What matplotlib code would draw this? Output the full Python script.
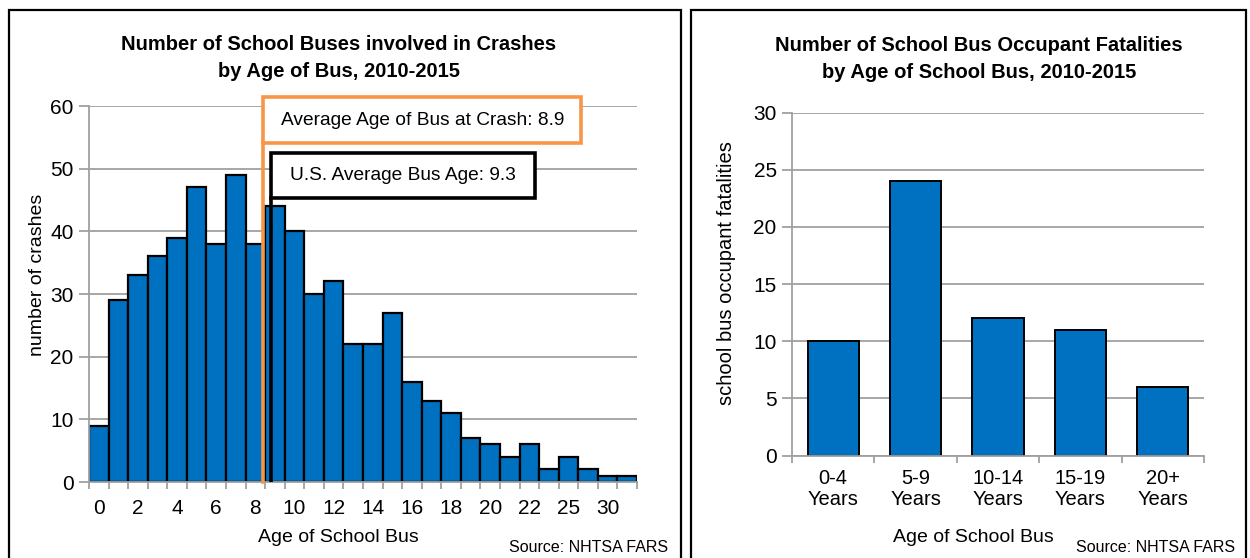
import matplotlib
matplotlib.use("Agg")
import matplotlib.pyplot as plt
from matplotlib.patches import Rectangle
import numpy as np

# ---------------- data ----------------
age_labels = ["0", "1", "2", "3", "4", "5", "6", "7", "8", "9", "10", "11", "12",
              "13", "14", "15", "16", "17", "18", "19", "20", "21", "22", "23",
              "25", "28", "30", "33"]
crashes = [9, 29, 33, 36, 39, 47, 38, 49, 38, 44, 40, 30, 32, 22, 22, 27, 16, 13,
           11, 7, 6, 4, 6, 2, 4, 2, 1, 1]
avg_age_at_crash = 8.9
us_avg_bus_age = 9.3

age_groups = ["0-4\nYears", "5-9\nYears", "10-14\nYears", "15-19\nYears", "20+\nYears"]
fatalities = [10, 24, 12, 11, 6]

title_left = "Number of School Buses involved in Crashes\nby Age of Bus, 2010-2015"
title_right = "Number of School Bus Occupant Fatalities\nby Age of School Bus, 2010-2015"

# ---------------- style ----------------
FONT = ["Liberation Sans", "DejaVu Sans"]
plt.rcParams["font.family"] = FONT
BLUE = "#0070C0"
ORANGE = "#F79646"
GRID = "#A0A0A0"

W, H = 1250, 558
fig = plt.figure(figsize=(W / 100, H / 100), dpi=100)

def px(x0, y0, x1, y1):
    return [x0 / W, 1 - y1 / H, (x1 - x0) / W, (y1 - y0) / H]

# panel borders
for (x0, x1) in [(9, 681), (691, 1246)]:
    fig.patches.append(Rectangle((x0 / W, -0.05), (x1 - x0) / W, 1.05 - 10 / H,
                                 transform=fig.transFigure, fill=False,
                                 edgecolor="black", linewidth=1.6, zorder=0))

def style_axes(ax):
    for s in ["top", "right"]:
        ax.spines[s].set_visible(False)
    for s in ["left", "bottom"]:
        ax.spines[s].set_color(GRID)
        ax.spines[s].set_linewidth(1.3)
    ax.yaxis.grid(True, color=GRID, linewidth=1.3)
    ax.set_axisbelow(True)
    ax.tick_params(axis="both", which="both", colors=GRID, labelcolor="black",
                   labelsize=15, width=1.3)
    ax.tick_params(axis="y", length=7, pad=4)
    ax.tick_params(axis="x", which="major", length=5)

# ---------------- left chart ----------------
axL = fig.add_axes(px(89, 106, 637, 482))
n = len(crashes)
xs = np.arange(n)
axL.bar(xs, crashes, width=1.0, color=BLUE, edgecolor="black", linewidth=1.6, zorder=2)
axL.set_xlim(-0.5, n - 0.5)
axL.set_ylim(0, 60)
axL.set_yticks(np.arange(0, 61, 10))
style_axes(axL)
axL.set_xticks(np.arange(n + 1) - 0.5)
axL.set_xticklabels([])
axL.set_xticks(xs[::2], minor=True)
axL.set_xticklabels(age_labels[::2], minor=True)
axL.tick_params(axis="x", which="minor", length=0, pad=12, labelsize=15)
axL.set_ylabel("number of crashes", fontsize=14)
axL.yaxis.set_label_coords((46 - 89) / 548, (482 - 275) / 376)

# average lines + boxes (positions on an age scale where bar i spans [i-0.5, i+0.5])
ox = avg_age_at_crash - 0.5
bx = us_avg_bus_age - 0.5
axL.plot([ox, ox], [0, 54.1], color=ORANGE, linewidth=2.6, zorder=3, clip_on=False)
axL.add_patch(Rectangle((ox, 54.1), 24.65 - ox, 61.4 - 54.1, facecolor="white",
                        edgecolor=ORANGE, linewidth=2.6, zorder=4, clip_on=False))
axL.text((ox + 24.65) / 2, (54.1 + 61.4) / 2,
         "Average Age of Bus at Crash: %.1f" % avg_age_at_crash,
         ha="center", va="center", fontsize=13.8, zorder=5)
axL.plot([bx, bx], [0, 45.3], color="black", linewidth=2.6, zorder=3)
axL.add_patch(Rectangle((bx, 45.3), 22.3 - bx, 52.5 - 45.3, facecolor="white",
                        edgecolor="black", linewidth=2.6, zorder=4, clip_on=False))
axL.text((bx + 22.3) / 2, (45.3 + 52.5) / 2,
         "U.S. Average Bus Age: %.1f" % us_avg_bus_age,
         ha="center", va="center", fontsize=13.8, zorder=5)

fig.text(339 / W, 1 - 58 / H, title_left, ha="center", va="center",
         fontsize=14.5, fontweight="bold", linespacing=1.5)
fig.text(338 / W, 1 - 537 / H, "Age of School Bus", ha="center", va="center", fontsize=14)
fig.text(668 / W, 1 - 547 / H, "Source: NHTSA FARS", ha="right", va="center", fontsize=11.5)

# ---------------- right chart ----------------
axR = fig.add_axes(px(792, 112.5, 1204, 455.5))
m = len(fatalities)
xr = np.arange(m)
axR.bar(xr, fatalities, width=0.62, color=BLUE, edgecolor="black", linewidth=1.4, zorder=2)
axR.set_xlim(-0.5, m - 0.5)
axR.set_ylim(0, 30)
axR.set_yticks(np.arange(0, 31, 5))
style_axes(axR)
axR.set_xticks(np.arange(m + 1) - 0.5)
axR.set_xticklabels([])
axR.set_xticks(xr, minor=True)
axR.set_xticklabels(age_groups, minor=True, linespacing=1.1)
axR.tick_params(axis="x", which="minor", length=0, pad=10, labelsize=14.5)
axR.set_ylabel("school bus occupant fatalities", fontsize=14.5)
axR.yaxis.set_label_coords((736 - 792) / 412, (455.5 - 273) / 343)

fig.text(979 / W, 1 - 59 / H, title_right, ha="center", va="center",
         fontsize=14.5, fontweight="bold", linespacing=1.5)
fig.text(973 / W, 1 - 537 / H, "Age of School Bus", ha="center", va="center", fontsize=14)
fig.text(1235 / W, 1 - 547 / H, "Source: NHTSA FARS", ha="right", va="center", fontsize=11.5)

fig.savefig("out.png", dpi=100)
